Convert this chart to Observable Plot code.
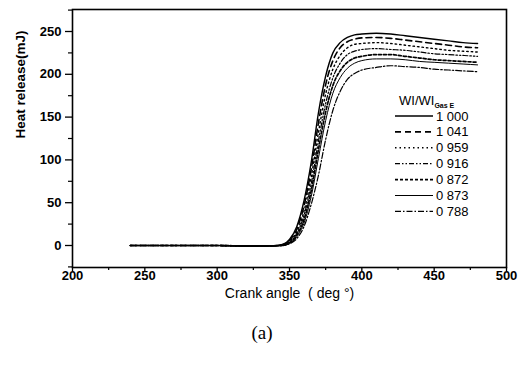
<!DOCTYPE html>
<html>
<head>
<meta charset="utf-8">
<script src="https://cdn.jsdelivr.net/npm/d3@7"></script>
<script src="https://cdn.jsdelivr.net/npm/@observablehq/plot@0.6"></script>
<style>
  html, body { margin: 0; padding: 0; background: #fff; }
  #wrap { position: relative; width: 526px; height: 368px; font-family: "Liberation Sans", Arial, sans-serif; }
  #caption { position: absolute; left: 0; top: 322px; width: 524px; text-align: center;
             font-family: "Liberation Serif", "Times New Roman", serif; font-size: 19px; color: #000; }
</style>
</head>
<body>
<div id="wrap"><div id="chart"></div><div id="caption">(a)</div></div>
<script>
// Crank angle samples (deg)
const angles = [240, 260, 280, 300, 320, 335, 345, 350, 355, 360, 365, 370, 375, 380, 385, 390, 395, 400, 410, 420, 430, 440, 450, 460, 470, 480];

// Heat release (mJ) for each Wobbe index ratio
const s1000 = [0, 0, 0, 0, -0.5, -0.5, 1, 7, 22, 52, 97, 155, 198, 225, 237, 243, 246, 247, 248, 247, 245, 243, 241, 239, 237, 236];
const s1041 = [0, 0, 0, 0, -0.5, -0.5, 1, 6, 19, 46, 89, 143, 188, 216, 231, 238, 241, 242.5, 243, 242, 240, 238, 236, 234, 232, 231];
const s0959 = [0, 0, 0, 0, -0.5, -0.5, 0.5, 5, 16, 40, 80, 132, 177, 206, 222, 231, 235, 236, 237, 236, 234, 232, 230, 228, 227, 226];
const s0916 = [0, 0, 0, 0, -0.5, -0.5, 0, 4, 14, 35, 72, 122, 166, 196, 213, 223, 227, 229, 230, 229, 228, 226, 224, 223, 222, 221];
const s0872 = [0, 0, 0, 0, -0.5, -0.5, 0, 3, 12, 30, 64, 112, 156, 187, 204, 214, 219, 221, 223, 223, 221, 219, 217, 216, 215, 214];
const s0873 = [0, 0, 0, 0, -0.5, -0.5, 0, 2.5, 10, 26, 57, 102, 146, 178, 196, 207, 213, 216, 218, 218, 217, 215, 214, 213, 212, 211];
const s0788 = [0, 0, 0, 0, -0.5, -0.5, 0, 2, 8, 22, 48, 82, 124, 158, 180, 194, 201, 205, 208, 210, 209, 208, 206, 205, 204, 203];

const seriesLabels = ["1 000", "1 041", "0 959", "0 916", "0 872", "0 873", "0 788"];
const seriesValues = [s1000, s1041, s0959, s0916, s0872, s0873, s0788];

const xTicks = [200, 250, 300, 350, 400, 450, 500];
const xMinor = [225, 275, 325, 375, 425, 475];
const yTicks = [0, 50, 100, 150, 200, 250];
const yMinor = [-25, 25, 75, 125, 175, 225, 275];

// Line styles per series: [dasharray, width]
const styles = [
  [null, 1.4],
  ["6,4", 1.6],
  ["1.5,3", 1.4],
  ["5,2,1.5,2,1.5,2", 1.2],
  ["3,2", 1.7],
  [null, 1.0],
  ["6,2,1.5,2", 1.2]
];

const lineMarks = seriesValues.map((vals, i) => {
  const rows = angles.map((a, j) => ({angle: a, heat: vals[j]}));
  const opts = {x: "angle", y: "heat", stroke: "#000", strokeWidth: styles[i][1], curve: "monotone-x"};
  if (styles[i][0]) opts.strokeDasharray = styles[i][0];
  return Plot.line(rows, opts);
});

const tickFont = {fontSize: 13, fontWeight: "bold"};

const chart = Plot.plot({
  width: 526,
  height: 310,
  marginLeft: 72,
  marginRight: 20,
  marginTop: 9,
  marginBottom: 43,
  style: {fontFamily: "'Liberation Sans', Arial, sans-serif", color: "#000", background: "#fff"},
  x: {domain: [200, 500]},
  y: {domain: [-25.7, 275.7]},
  marks: [
    ...lineMarks,
    Plot.axisX({ticks: xMinor, tickSize: 3, tickFormat: () => "", label: null, strokeWidth: 1.2}),
    Plot.axisX({ticks: xTicks, tickSize: 4, tickPadding: -1, label: null, strokeWidth: 1.3, ...tickFont}),
    Plot.axisY({ticks: yMinor, tickSize: 4, tickFormat: () => "", label: null, strokeWidth: 1.2}),
    Plot.axisY({ticks: yTicks, tickSize: 7, tickPadding: 4, label: null, strokeWidth: 1.3, ...tickFont}),
    Plot.frame({stroke: "#000", strokeWidth: 1.6}),
    Plot.text(["Crank angle  ( deg °)"], {frameAnchor: "bottom", dy: 30, fontSize: 14, fill: "#000"}),
    Plot.text(["Heat release(mJ)"], {frameAnchor: "left", dx: -52, dy: 0, rotate: -90, fontSize: 13.5, fontWeight: "bold", fill: "#000"})
  ]
});

document.getElementById("chart").appendChild(chart);

// Legend drawn inside the plot area
const svg = d3.select(chart);
const lg = svg.append("g")
  .attr("font-family", "'Liberation Sans', Arial, sans-serif")
  .attr("text-anchor", "start")
  .attr("fill", "#000");
const lgX0 = 395, lgX1 = 433, lgTextX = 436, lgTitleY = 100, lgRow0 = 116, lgStep = 15.9;
const title = lg.append("text").attr("x", 399).attr("y", lgTitleY).attr("dy", "0.35em").attr("font-size", 13);
title.append("tspan").text("WI/WI");
title.append("tspan").attr("dy", "0.45em").attr("font-size", 7).attr("font-weight", "bold").text("Gas E");
seriesLabels.forEach((lab, i) => {
  const y = lgRow0 + i * lgStep;
  const ln = lg.append("line")
    .attr("x1", lgX0).attr("x2", lgX1).attr("y1", y).attr("y2", y)
    .attr("stroke", "#000").attr("stroke-width", styles[i][1]);
  if (styles[i][0]) ln.attr("stroke-dasharray", styles[i][0]);
  lg.append("text").attr("x", lgTextX).attr("y", y).attr("dy", "0.35em").attr("font-size", 13).text(lab);
});
</script>
</body>
</html>
